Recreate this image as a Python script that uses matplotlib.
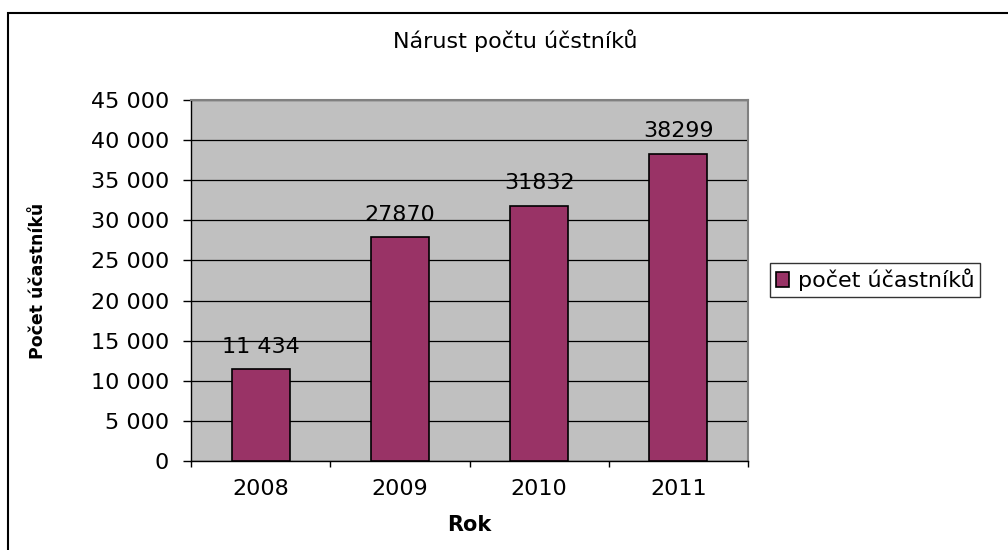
import matplotlib.pyplot as plt
import matplotlib as mpl
from matplotlib.patches import Rectangle
from matplotlib.ticker import FuncFormatter, FixedLocator

years = ["2008", "2009", "2010", "2011"]
participants = [11434, 27870, 31832, 38299]
value_labels = ["11 434", "27870", "31832", "38299"]
y_ticks = [0, 5000, 10000, 15000, 20000, 25000, 30000, 35000, 40000, 45000]

mpl.rcParams.update({
    'font.family': ['DejaVu Sans'],
    'font.size': 14,
    'axes.linewidth': 1.0,
})

fig = plt.figure(figsize=(10.08, 5.5), dpi=100)
# plot area 191..748 px wide, 100..461 px high
ax = fig.add_axes([191 / 1008, 89 / 550, 557 / 1008, 361 / 550])
ax.set_facecolor("#c0c0c0")

x = list(range(len(years)))
ax.bar(x, participants, width=0.416, color="#993366", edgecolor="black",
       linewidth=1.2, zorder=3, label="počet účastníků")

for xi, v, lab in zip(x, participants, value_labels):
    ax.annotate(lab, (xi, v), xytext=(0, 9), textcoords="offset points",
                ha="center", va="bottom", fontsize=16, zorder=4)

ax.set_xlim(-0.5, len(years) - 0.5)
ax.set_ylim(0, 45000)
ax.set_yticks(y_ticks)
ax.yaxis.set_major_formatter(FuncFormatter(lambda v, _: f"{int(v):,}".replace(",", " ")))
ax.yaxis.grid(True, color="black", linewidth=0.9, zorder=1)
ax.set_axisbelow(True)

ax.xaxis.set_major_locator(FixedLocator([i - 0.5 for i in range(len(years) + 1)]))
ax.xaxis.set_minor_locator(FixedLocator(x))
ax.xaxis.set_major_formatter(FuncFormatter(lambda v, _: ""))
ax.set_xticklabels(years, minor=True)
ax.tick_params(axis="x", which="minor", length=0, pad=13, labelsize=16)
ax.tick_params(axis="x", which="major", length=4, direction="out", width=1)
ax.tick_params(axis="y", length=6, direction="out", width=1, labelsize=16, pad=10)

for side in ["top", "right"]:
    ax.spines[side].set_color("#808080")
    ax.spines[side].set_linewidth(1.5)
ax.spines["left"].set_color("black")
ax.spines["bottom"].set_color("black")

ax.set_xlabel("Rok", fontsize=15, fontweight="bold")
ax.xaxis.set_label_coords(0.5, -(515 - 461) / 361)
ax.set_ylabel("Počet účastníků", fontsize=12.5, fontweight="bold")
ax.yaxis.set_label_coords((47 - 191) / 557, 0.5)

fig.text(515 / 1008, 1 - 41 / 550, "Nárust počtu účstníků", ha="center", va="center",
         fontsize=16)

leg = fig.legend(loc="center left", bbox_to_anchor=(770 / 1008, 1 - 280 / 550),
                 fontsize=16, frameon=True, fancybox=False, handlelength=0.6,
                 handleheight=0.6, handletextpad=0.4, borderpad=0.25,
                 borderaxespad=0)
leg.get_frame().set_edgecolor("black")
leg.get_frame().set_linewidth(1.0)

# outer chart border (right and bottom edges fall outside the image)
fig.patches.append(Rectangle((8 / 1008, -10 / 550), 1010 / 1008, 547 / 550,
                             transform=fig.transFigure, fill=False,
                             edgecolor="black", linewidth=1.5))

fig.savefig("out.png", dpi=100)
